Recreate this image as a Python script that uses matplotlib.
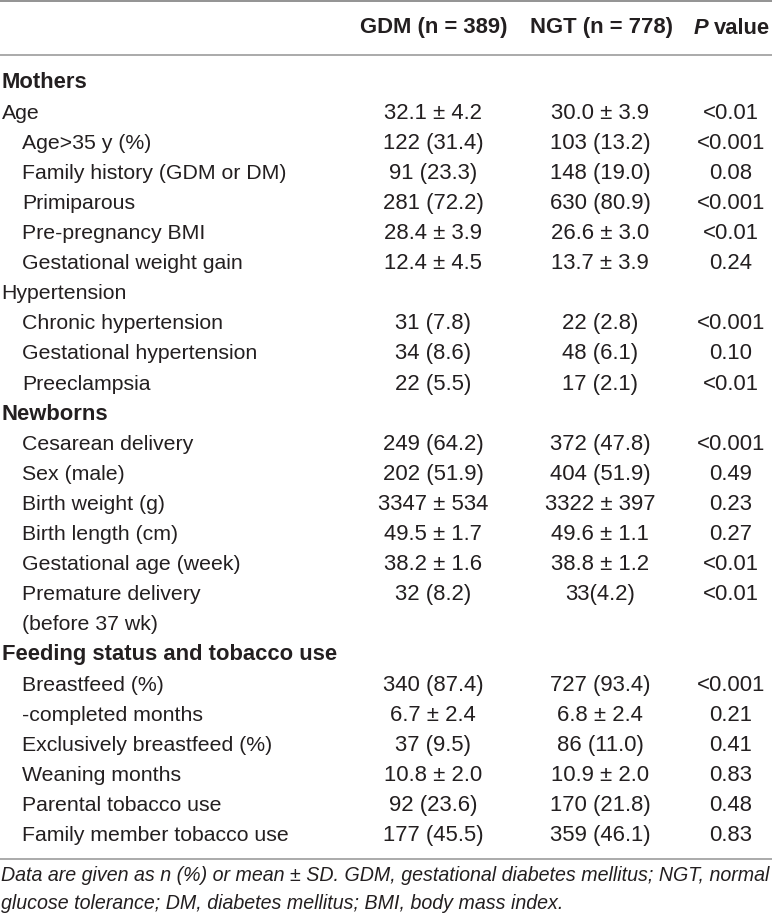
import matplotlib
matplotlib.use("Agg")
import matplotlib.pyplot as plt

# ---- data ----
col_headers = ["GDM (n = 389)", "NGT (n = 778)"]
p_header = ("P", "value")

labels = [
    "Mothers", "Age", "Age>35 y (%)", "Family history (GDM or DM)", "Primiparous",
    "Pre-pregnancy BMI", "Gestational weight gain", "Hypertension",
    "Chronic hypertension", "Gestational hypertension", "Preeclampsia",
    "Newborns", "Cesarean delivery", "Sex (male)", "Birth weight (g)",
    "Birth length (cm)", "Gestational age (week)", "Premature delivery",
    "(before 37 wk)", "Feeding status and tobacco use", "Breastfeed (%)",
    "-completed months", "Exclusively breastfeed (%)", "Weaning months",
    "Parental tobacco use", "Family member tobacco use",
]
section = [True, False, False, False, False, False, False, False, False, False, False,
           True, False, False, False, False, False, False, False, True,
           False, False, False, False, False, False]
indented = [False, False, True, True, True, True, True, False, True, True, True,
            False, True, True, True, True, True, True, True, False,
            True, True, True, True, True, True]
gdm = ["", "32.1 ± 4.2", "122 (31.4)", "91 (23.3)", "281 (72.2)", "28.4 ± 3.9",
       "12.4 ± 4.5", "", "31 (7.8)", "34 (8.6)", "22 (5.5)", "", "249 (64.2)",
       "202 (51.9)", "3347 ± 534", "49.5 ± 1.7", "38.2 ± 1.6", "32 (8.2)", "", "",
       "340 (87.4)", "6.7 ± 2.4", "37 (9.5)", "10.8 ± 2.0", "92 (23.6)", "177 (45.5)"]
ngt = ["", "30.0 ± 3.9", "103 (13.2)", "148 (19.0)", "630 (80.9)", "26.6 ± 3.0",
       "13.7 ± 3.9", "", "22 (2.8)", "48 (6.1)", "17 (2.1)", "", "372 (47.8)",
       "404 (51.9)", "3322 ± 397", "49.6 ± 1.1", "38.8 ± 1.2", "33(4.2)", "", "",
       "727 (93.4)", "6.8 ± 2.4", "86 (11.0)", "10.9 ± 2.0", "170 (21.8)", "359 (46.1)"]
pvals = ["", "<0.01", "<0.001", "0.08", "<0.001", "<0.01", "0.24", "", "<0.001",
         "0.10", "<0.01", "", "<0.001", "0.49", "0.23", "0.27", "<0.01", "<0.01", "",
         "", "<0.001", "0.21", "0.41", "0.83", "0.48", "0.83"]
footnote = ["Data are given as n (%) or mean ± SD. GDM, gestational diabetes mellitus; NGT, normal",
            "glucose tolerance; DM, diabetes mellitus; BMI, body mass index."]

# ---- layout ----
W, H = 772, 921
plt.rcParams['font.family'] = ['Liberation Sans', 'DejaVu Sans']
fig = plt.figure(figsize=(W / 100, H / 100), dpi=100)
ax = fig.add_axes([0, 0, 1, 1])
ax.set_xlim(0, W)
ax.set_ylim(H, 0)
ax.axis("off")

tc = "#231f20"
fs_num = 15.9
fs_lab = 15.3
fs_head = 15.8
lc = "#9c9c9c"

col_x = [433, 600]
p_x = 731
row0, dy = 83, 30.1
header_y = 28

ax.axhline(1, color="#8a8a8a", lw=1.3)
ax.axhline(55, color=lc, lw=1.2)
ax.axhline(859, color=lc, lw=1.2)

for cx, h in zip([434, 601], col_headers):
    ax.text(cx, header_y, h, ha="center", va="center", fontsize=fs_head, weight="bold", color=tc)
ptxt = ax.text(694, header_y, p_header[0], ha="left", va="center", fontsize=fs_head,
               weight="bold", style="italic", color=tc)
fig.canvas.draw()
bb = ptxt.get_window_extent()
inv = ax.transData.inverted()
x_end = inv.transform((bb.x1, bb.y0))[0]
ax.text(x_end + 5, header_y, p_header[1], ha="left", va="center", fontsize=fs_head,
        weight="bold", color=tc)

for i, lab in enumerate(labels):
    y = row0 + i * dy
    x = 22.5 if indented[i] else 1.5
    ax.text(x, y, lab, ha="left", va="center", color=tc,
            fontsize=fs_head if section[i] else fs_lab,
            weight="bold" if section[i] else "normal")
    ax.text(col_x[0], y, gdm[i], ha="center", va="center", fontsize=fs_num, color=tc)
    ax.text(col_x[1], y, ngt[i], ha="center", va="center", fontsize=fs_num, color=tc)
    ax.text(p_x, y, pvals[i], ha="center", va="center", fontsize=fs_num, color=tc)

for j, line in enumerate(footnote):
    ax.text(1, 875 + j * 28, line, ha="left", va="center", fontsize=14.15,
            style="italic", color=tc)

fig.savefig("out.png", dpi=100)
